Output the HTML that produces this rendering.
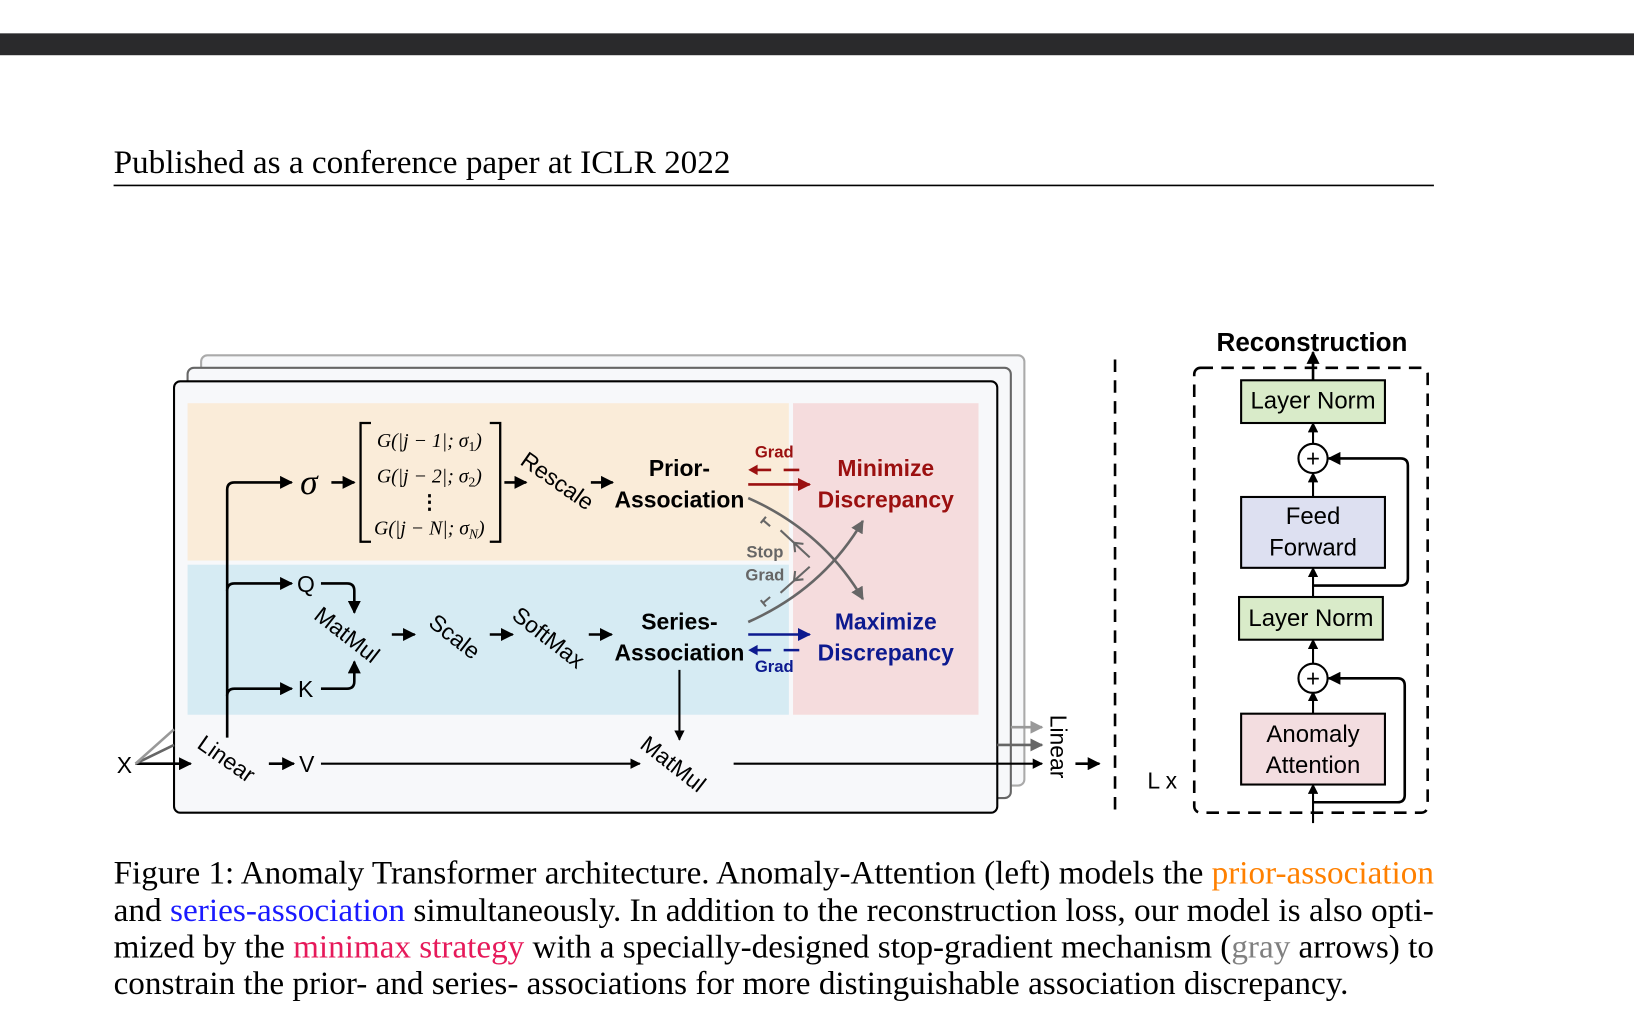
<!DOCTYPE html>
<html><head><meta charset="utf-8"><style>
html,body{margin:0;padding:0;background:#fff;}
svg{display:block;}
.s{font-family:"Liberation Sans",sans-serif;}
.r{font-family:"Liberation Serif",serif;}
</style></head><body>
<svg width="1634" height="1020" viewBox="0 0 1568 979" preserveAspectRatio="none" xmlns="http://www.w3.org/2000/svg">
<defs>
<marker id="a" viewBox="0 0 10 10" refX="9" refY="5" markerWidth="5" markerHeight="5" orient="auto-start-reverse" markerUnits="strokeWidth"><path d="M0,0L10,5L0,10z" fill="#000"/></marker>
<marker id="ag" viewBox="0 0 10 10" refX="9" refY="5" markerWidth="5" markerHeight="5" orient="auto" markerUnits="strokeWidth"><path d="M0,0L10,5L0,10z" fill="#666"/></marker>
<marker id="ag2" viewBox="0 0 10 10" refX="9" refY="5" markerWidth="5" markerHeight="5" orient="auto" markerUnits="strokeWidth"><path d="M0,0L10,5L0,10z" fill="#999"/></marker>
<marker id="ar" viewBox="0 0 10 10" refX="9" refY="5" markerWidth="5" markerHeight="5" orient="auto" markerUnits="strokeWidth"><path d="M0,0L10,5L0,10z" fill="#9b1010"/></marker>
<marker id="ab" viewBox="0 0 10 10" refX="9" refY="5" markerWidth="5" markerHeight="5" orient="auto" markerUnits="strokeWidth"><path d="M0,0L10,5L0,10z" fill="#0d1a8f"/></marker>
</defs>
<rect x="0" y="32" width="1568" height="21" fill="#2a2a2c"/>
<text class="r" x="109" y="166" font-size="31" textLength="592" lengthAdjust="spacingAndGlyphs">Published as a conference paper at ICLR 2022</text>
<line x1="109" y1="178" x2="1376" y2="178" stroke="#000" stroke-width="1.5"/>

<!-- stacked boxes -->
<rect x="193" y="341" width="790" height="413" rx="6" fill="#f7f8fa" stroke="#aaa" stroke-width="2"/>
<rect x="180" y="353" width="790" height="413" rx="6" fill="#f7f8fa" stroke="#666" stroke-width="2"/>
<rect x="167" y="366" width="790" height="414" rx="6" fill="#f7f8fa" stroke="#000" stroke-width="2"/>
<rect x="180" y="387" width="577" height="151" fill="#faecd9"/>
<rect x="180" y="542" width="577" height="144" fill="#d6ebf3"/>
<rect x="761" y="387" width="178" height="299" fill="#f5dcdd"/>

<g stroke="#000" stroke-width="2.5" fill="none">
<path d="M218,708 V470 Q218,463 225,463 H280" marker-end="url(#a)"/>
<path d="M218,567 Q218,560 225,560 H280" marker-end="url(#a)"/>
<path d="M218,668 Q218,661 225,661 H280" marker-end="url(#a)"/>
<path d="M308,560 H333 Q340,560 340,567 V588" marker-end="url(#a)"/>
<path d="M308,661 H333 Q340,661 340,654 V635" marker-end="url(#a)"/>
<path d="M318,463 H340" marker-end="url(#a)"/>
<path d="M484,463 H505" marker-end="url(#a)"/>
<path d="M567,463 H588" marker-end="url(#a)"/>
<path d="M376,609 H398" marker-end="url(#a)"/>
<path d="M470,609 H492" marker-end="url(#a)"/>
<path d="M565,609 H587" marker-end="url(#a)"/>
<path d="M130,733 H183" marker-end="url(#a)"/>
<path d="M258,733 H282" marker-end="url(#a)"/>
<path d="M308,733 H614" stroke-width="2" marker-end="url(#a)"/>
<path d="M652,643 V710" stroke-width="2" marker-end="url(#a)"/>
<path d="M704,733 H1000" stroke-width="2" marker-end="url(#a)"/>
<path d="M1032,733 H1055" stroke-width="2.5" marker-end="url(#a)"/>
</g>
<path d="M957,715 H1000" stroke="#666" stroke-width="2.5" marker-end="url(#ag)"/>
<path d="M970,698 H1000" stroke="#999" stroke-width="2.5" marker-end="url(#ag2)"/>
<path d="M130,733 L167,715" stroke="#666" stroke-width="2.5"/>
<path d="M130,733 L167,700" stroke="#999" stroke-width="2.5"/>

<!-- matrix -->
<path d="M356,406 H346 V520 H356 M470,406 H480 V520 H470" stroke="#000" stroke-width="2.2" fill="none"/>
<g class="r" font-size="19" font-style="italic" text-anchor="middle">
<text x="412" y="429">G(|j − 1|; σ<tspan font-size="13" dy="4" font-style="normal">1</tspan><tspan dy="-4">)</tspan></text>
<text x="412" y="463">G(|j − 2|; σ<tspan font-size="13" dy="4" font-style="normal">2</tspan><tspan dy="-4">)</tspan></text>
<text x="412" y="488" font-style="normal" font-weight="bold">⋮</text>
<text x="412" y="513">G(|j − N|; σ<tspan font-size="13" dy="4">N</tspan><tspan dy="-4">)</tspan></text>
</g>
<text class="r" x="288" y="474" font-size="34" font-style="italic">σ</text>

<g class="s" font-size="22">
<text x="285" y="568">Q</text>
<text x="286" y="669">K</text>
<text x="287" y="741">V</text>
<text x="112" y="742">X</text>
<text transform="translate(498,445) rotate(35)">Rescale</text>
<text transform="translate(300,593) rotate(38)">MatMul</text>
<text transform="translate(410,600) rotate(38)">Scale</text>
<text transform="translate(490,593) rotate(38)">SoftMax</text>
<text transform="translate(188,717) rotate(35)">Linear</text>
<text transform="translate(613,717) rotate(38)">MatMul</text>
<text transform="translate(1008,686) rotate(90)">Linear</text>
<text x="1101" y="757">L x</text>
</g>
<g class="s" font-size="22" font-weight="bold" text-anchor="middle">
<text x="652" y="457">Prior-</text>
<text x="652" y="487">Association</text>
<text x="652" y="604">Series-</text>
<text x="652" y="634">Association</text>
<text x="850" y="457" fill="#9b1010">Minimize</text>
<text x="850" y="487" fill="#9b1010">Discrepancy</text>
<text x="850" y="604" fill="#0d1a8f">Maximize</text>
<text x="850" y="634" fill="#0d1a8f">Discrepancy</text>
<text x="743" y="439" font-size="16" fill="#9b1010">Grad</text>
<text x="743" y="645" font-size="16" fill="#0d1a8f">Grad</text>
<text x="734" y="535" font-size="16" fill="#666">Stop</text>
<text x="734" y="557" font-size="16" fill="#666">Grad</text>
</g>
<path d="M718,465 H777" stroke="#9b1010" stroke-width="2.5" marker-end="url(#ar)"/>
<path d="M767,451 H752 M740,451 H722" stroke="#9b1010" stroke-width="2.5" fill="none"/>
<path d="M718,451 l9,-5 v10z" fill="#9b1010"/>
<path d="M718,609 H777" stroke="#0d1a8f" stroke-width="2.5" marker-end="url(#ab)"/>
<path d="M767,624 H752 M740,624 H722" stroke="#0d1a8f" stroke-width="2.5" fill="none"/>
<path d="M718,624 l9,-5 v10z" fill="#0d1a8f"/>
<!-- gray curves -->
<path d="M718,478 Q790,510 828,575" stroke="#666" stroke-width="2.5" fill="none" marker-end="url(#ag)"/>
<path d="M718,597 Q790,565 828,500" stroke="#666" stroke-width="2.5" fill="none" marker-end="url(#ag)"/>
<g stroke="#666" stroke-width="2" fill="none">
<path d="M777,535 L749,509"/>
<path d="M762,521 l1,9 M762,521 l9,1" transform="translate(0,0)"/>
<path d="M735,496 l-5,6 M732,499 l7,6"/>
<path d="M777,544 L749,569"/>
<path d="M762,557 l1,-9 M762,557 l9,-1" transform="translate(0,0)"/>
<path d="M735,582 l-5,-6 M732,579 l7,-6"/>
</g>

<!-- right -->
<line x1="1070" y1="345" x2="1070" y2="785" stroke="#000" stroke-width="2.5" stroke-dasharray="12,8"/>
<rect x="1146" y="353" width="224" height="427" rx="6" fill="none" stroke="#000" stroke-width="2.5" stroke-dasharray="12,8"/>
<text class="s" x="1259" y="337" font-size="25" font-weight="bold" text-anchor="middle">Reconstruction</text>
<g stroke="#000" stroke-width="2" fill="none">
<path d="M1260,365 V338" stroke-width="2.5" marker-end="url(#a)"/>
<path d="M1260,427 V406" marker-end="url(#a)"/>
<path d="M1260,477 V454" marker-end="url(#a)"/>
<path d="M1260,573 V545" marker-end="url(#a)"/>
<path d="M1260,638 V614" marker-end="url(#a)"/>
<path d="M1260,685 V664" marker-end="url(#a)"/>
<path d="M1260,790 V753" marker-end="url(#a)"/>
<path d="M1260,562 H1344 Q1351,562 1351,555 V447 Q1351,440 1344,440 H1275" stroke-width="2.5" marker-end="url(#a)"/>
<path d="M1260,770 H1341 Q1348,770 1348,763 V658 Q1348,651 1341,651 H1275" stroke-width="2.5" marker-end="url(#a)"/>
</g>
<rect x="1191" y="365" width="138" height="41" fill="#d9ebc9" stroke="#000" stroke-width="2"/>
<rect x="1191" y="477" width="138" height="68" fill="#dde0f1" stroke="#000" stroke-width="2"/>
<rect x="1189" y="573" width="138" height="41" fill="#d9ebc9" stroke="#000" stroke-width="2"/>
<rect x="1191" y="685" width="138" height="68" fill="#f3dde0" stroke="#000" stroke-width="2"/>
<circle cx="1260" cy="440" r="14" fill="#fff" stroke="#000" stroke-width="2"/>
<circle cx="1260" cy="651" r="14" fill="#fff" stroke="#000" stroke-width="2"/>
<g class="s" font-size="23" text-anchor="middle">
<text x="1260" y="448">+</text>
<text x="1260" y="659">+</text>
<text x="1260" y="392">Layer Norm</text>
<text x="1260" y="503">Feed</text>
<text x="1260" y="533">Forward</text>
<text x="1258" y="601">Layer Norm</text>
<text x="1260" y="712">Anomaly</text>
<text x="1260" y="742">Attention</text>
</g>

<!-- caption -->
<g class="r" font-size="31">
<text x="109" y="848" textLength="1267" lengthAdjust="spacingAndGlyphs">Figure 1: Anomaly Transformer architecture. Anomaly-Attention (left) models the <tspan fill="#ff8000">prior-association</tspan></text>
<text x="109" y="884" textLength="1267" lengthAdjust="spacingAndGlyphs">and <tspan fill="#1a1aff">series-association</tspan> simultaneously. In addition to the reconstruction loss, our model is also opti-</text>
<text x="109" y="919" textLength="1267" lengthAdjust="spacingAndGlyphs">mized by the <tspan fill="#e6195a">minimax strategy</tspan> with a specially-designed stop-gradient mechanism (<tspan fill="#808080">gray</tspan> arrows) to</text>
<text x="109" y="954" textLength="1185" lengthAdjust="spacingAndGlyphs">constrain the prior- and series- associations for more distinguishable association discrepancy.</text>
</g>
</svg>
</body></html>
